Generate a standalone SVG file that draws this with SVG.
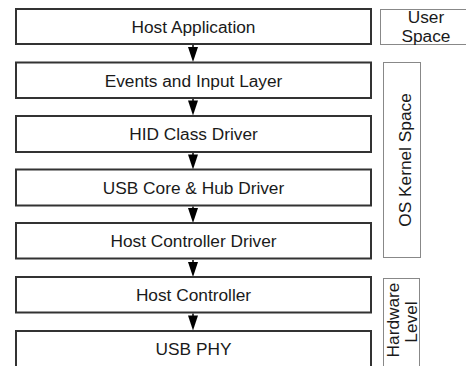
<svg xmlns="http://www.w3.org/2000/svg" width="466" height="366" viewBox="0 0 466 366">
<style>
.box{fill:#fff;stroke:#333;stroke-width:2}
.side{fill:#fff;stroke:#888;stroke-width:1}
.t{font-family:"Liberation Sans",Arial,sans-serif;font-size:17.3px;fill:#1a1a1a;text-anchor:middle}
.c{stroke:#000;stroke-width:1.5;fill:none}
</style>
<defs>
<marker id="ah" markerWidth="10" markerHeight="15" refX="5" refY="14" orient="auto-start-reverse" markerUnits="userSpaceOnUse" viewBox="0 0 10 15">
<path d="M0,0 L10,0 L5,15 Z" fill="#000" transform="rotate(0)"/>
</marker>
</defs>
<rect width="466" height="366" fill="#fff"/>
<g id="connectors">
<path class="c" d="M193,45 V50"/>
<path d="M188,47 H198 L193,62 Z" fill="#000"/>
<path class="c" d="M193,99 V103"/>
<path d="M188,100.5 H198 L193,115.5 Z" fill="#000"/>
<path class="c" d="M193,153 V157"/>
<path d="M188,154.5 H198 L193,169.5 Z" fill="#000"/>
<path class="c" d="M193,206.5 V211"/>
<path d="M188,208 H198 L193,223 Z" fill="#000"/>
<path class="c" d="M193,260 V265"/>
<path d="M188,262 H198 L193,277 Z" fill="#000"/>
<path class="c" d="M193,313.5 V318"/>
<path d="M188,315.5 H198 L193,330.5 Z" fill="#000"/>
</g>
<g id="host-application"><rect class="box" x="16" y="9" width="355" height="35"/><text class="t" x="193.5" y="33">Host Application</text></g>
<g id="events-input"><rect class="box" x="16" y="62.5" width="355" height="35.5"/><text class="t" x="193.5" y="86.5">Events and Input Layer</text></g>
<g id="hid-class"><rect class="box" x="16" y="116" width="355" height="36"/><text class="t" x="193.5" y="140">HID Class Driver</text></g>
<g id="usb-core"><rect class="box" x="16" y="169.5" width="355" height="36"/><text class="t" x="193.5" y="193.5">USB Core &amp; Hub Driver</text></g>
<g id="host-controller-driver"><rect class="box" x="16" y="223" width="355" height="35.5"/><text class="t" x="193.5" y="247">Host Controller Driver</text></g>
<g id="host-controller"><rect class="box" x="16" y="277" width="355" height="35.5"/><text class="t" x="193.5" y="301">Host Controller</text></g>
<g id="usb-phy"><rect class="box" x="16" y="331" width="355" height="45"/><text class="t" x="193.5" y="355">USB PHY</text></g>
<g id="user-space"><rect class="side" x="380.5" y="9.5" width="100" height="35"/><text class="t" x="426" y="23">User</text><text class="t" x="426" y="41.5">Space</text></g>
<g id="os-kernel-space"><rect class="side" x="383.5" y="62.5" width="37" height="195"/><text class="t" transform="translate(410.5,160) rotate(-90)">OS Kernel Space</text></g>
<g id="hardware-level"><rect class="side" x="383.5" y="278.5" width="36" height="100"/><text class="t" transform="translate(399,320) rotate(-90)">Hardware</text><text class="t" transform="translate(417,322) rotate(-90)">Level</text></g>
</svg>
